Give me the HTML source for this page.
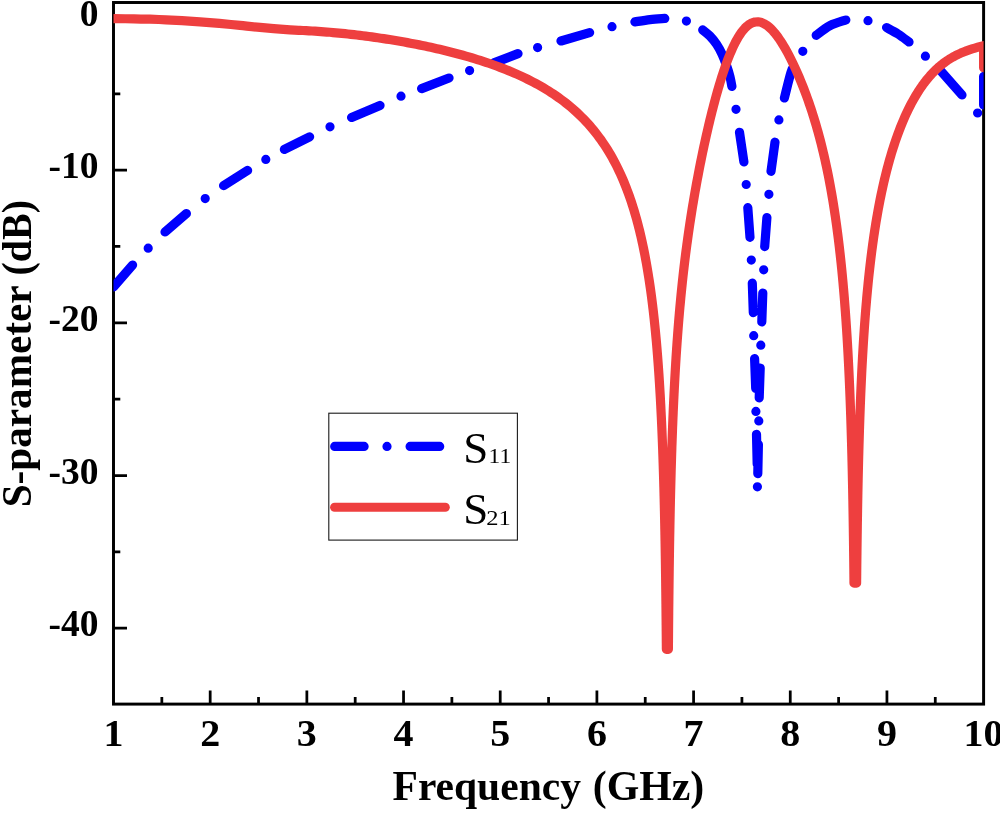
<!DOCTYPE html>
<html><head><meta charset="utf-8"><title>S-parameter</title>
<style>html,body{margin:0;padding:0;background:#fff}svg{display:block}</style></head>
<body>
<svg width="1000" height="813" viewBox="0 0 1000 813">
<defs><clipPath id="c"><rect x="113.5" y="2.5" width="870.10" height="701.60"/></clipPath></defs>
<rect width="1000" height="813" fill="#fff"/>
<path d="M161.84,704.10V696.90M210.18,704.10V690.40M258.52,704.10V696.90M306.86,704.10V690.40M355.20,704.10V696.90M403.54,704.10V690.40M451.88,704.10V696.90M500.22,704.10V690.40M548.56,704.10V696.90M596.90,704.10V690.40M645.24,704.10V696.90M693.58,704.10V690.40M741.92,704.10V696.90M790.26,704.10V690.40M838.60,704.10V696.90M886.94,704.10V690.40M935.28,704.10V696.90M113.50,17.44H127.00M113.50,93.78H120.30M113.50,170.13H127.00M113.50,246.47H120.30M113.50,322.82H127.00M113.50,399.17H120.30M113.50,475.51H127.00M113.50,551.86H120.30M113.50,628.20H127.00" stroke="#000" stroke-width="2.75" fill="none"/>
<rect x="113.5" y="2.5" width="870.10" height="701.60" fill="none" stroke="#000" stroke-width="2.95"/>
<g clip-path="url(#c)" fill="none" stroke-linecap="round" stroke-linejoin="round">
<path d="M113.50,287.00 L132.60,265.00 M165.00,232.00 L186.40,213.60 M223.60,185.60 L247.60,170.40 M284.40,149.40 L309.60,136.80 M351.60,117.40 L380.00,105.40 M421.60,88.60 L449.00,78.00 M494.00,62.90 L518.00,53.60 M561.00,41.00 L589.60,32.60 M634.90,21.90 C637.42,21.52 645.02,20.18 650.00,19.60 C654.98,19.02 662.33,18.60 664.80,18.40 M702.70,29.90 C703.90,30.92 707.58,33.60 709.90,36.00 C712.22,38.40 714.57,41.25 716.60,44.30 C718.63,47.35 720.45,50.78 722.10,54.30 C723.75,57.82 725.20,61.72 726.50,65.40 C727.80,69.08 729.00,72.90 729.90,76.40 C730.80,79.90 731.57,84.73 731.90,86.40 M739.50,132.30 L743.90,161.90 M747.80,207.70 L750.00,237.30 M752.30,283.10 L753.30,312.70 M754.60,358.70 L755.70,388.40 M756.50,434.30 L757.20,464.20 M757.80,473.60 L758.40,444.50 M759.20,397.80 L760.20,368.00 M761.80,321.90 L762.80,293.00 M764.70,246.60 L766.90,217.60 M771.00,171.30 L775.00,142.20 M784.40,98.00 C784.93,95.83 786.58,89.00 787.60,85.00 C788.62,81.00 789.73,76.67 790.50,74.00 C791.27,71.33 791.92,69.83 792.20,69.00 M816.20,35.30 C818.50,33.68 825.07,28.15 830.00,25.60 C834.93,23.05 843.17,20.93 845.80,20.00 M886.60,27.60 C888.50,28.67 894.27,31.60 898.00,34.00 C901.73,36.40 907.17,40.67 909.00,42.00 M940.00,70.00 L962.00,95.00 M983.60,105.00 L983.60,76.50 M148.20,248.20h0.01 M205.20,198.60h0.01 M265.80,159.40h0.01 M330.00,126.80h0.01 M401.00,96.20h0.01 M469.60,70.60h0.01 M537.60,47.60h0.01 M612.00,26.70h0.01 M686.40,21.10h0.01 M736.00,109.30h0.01 M746.20,184.50h0.01 M751.30,260.10h0.01 M753.70,335.70h0.01 M755.90,411.40h0.01 M757.40,486.80h0.01 M758.80,420.90h0.01 M760.80,345.20h0.01 M763.70,269.80h0.01 M768.90,194.30h0.01 M778.90,119.90h0.01 M802.80,51.30h0.01 M868.00,20.70h0.01 M925.40,56.20h0.01 M977.60,113.00h0.01" stroke="#0000fe" stroke-width="9.2"/>
<path d="M113.50,18.70 C116.92,18.72 127.92,18.72 134.00,18.80 C140.08,18.88 144.67,19.03 150.00,19.20 C155.33,19.37 160.67,19.57 166.00,19.80 C171.33,20.03 176.33,20.27 182.00,20.60 C187.67,20.93 193.77,21.33 200.00,21.80 C206.23,22.27 212.73,22.80 219.40,23.40 C226.07,24.00 233.23,24.73 240.00,25.40 C246.77,26.07 251.67,26.66 260.00,27.40 C268.33,28.14 283.33,29.36 290.00,29.85 C296.67,30.34 298.33,30.24 300.00,30.32 L303.00,30.47 L306.00,30.62 L309.00,30.79 L312.00,30.97 L314.99,31.16 L317.99,31.37 L320.98,31.58 L323.98,31.81 L326.97,32.04 L329.97,32.29 L332.96,32.55 L335.95,32.82 L338.94,33.10 L341.93,33.39 L344.92,33.70 L347.90,34.01 L350.89,34.34 L353.87,34.67 L356.86,35.02 L359.84,35.38 L362.82,35.75 L365.80,36.13 L368.78,36.52 L371.75,36.92 L374.73,37.33 L377.70,37.76 L380.67,38.19 L383.64,38.64 L386.61,39.09 L389.58,39.56 L392.54,40.04 L395.50,40.53 L398.46,41.03 L401.42,41.55 L404.38,42.07 L407.34,42.61 L410.29,43.16 L413.24,43.72 L416.19,44.29 L419.13,44.87 L422.08,45.47 L425.02,46.08 L427.95,46.70 L430.89,47.34 L433.82,47.99 L436.75,48.65 L439.68,49.33 L442.60,50.02 L445.52,50.72 L448.44,51.44 L451.35,52.18 L454.26,52.93 L457.16,53.69 L460.06,54.47 L462.96,55.27 L465.85,56.08 L468.73,56.92 L471.61,57.76 L474.49,58.63 L477.36,59.52 L480.22,60.42 L483.08,61.34 L485.93,62.29 L488.78,63.25 L491.61,64.24 L494.44,65.24 L497.26,66.27 L500.08,67.32 L502.88,68.40 L505.68,69.50 L508.46,70.62 L511.23,71.77 L514.00,72.95 L516.75,74.15 L519.49,75.38 L522.22,76.64 L524.93,77.93 L527.63,79.24 L530.31,80.59 L532.98,81.97 L535.63,83.38 L538.27,84.82 L540.88,86.30 L543.48,87.81 L546.05,89.35 L548.61,90.93 L551.14,92.55 L553.65,94.20 L556.13,95.89 L558.59,97.61 L561.02,99.37 L563.43,101.17 L565.81,103.01 L568.15,104.88 L570.47,106.79 L572.75,108.74 L575.00,110.73 L577.22,112.76 L579.40,114.82 L581.55,116.92 L583.66,119.06 L585.74,121.23 L587.77,123.43 L589.77,125.68 L591.73,127.95 L593.65,130.26 L595.53,132.60 L597.38,134.97 L599.18,137.38 L600.94,139.81 L602.66,142.27 L604.34,144.76 L605.99,147.27 L607.59,149.81 L609.15,152.37 L610.68,154.96 L612.17,157.57 L613.61,160.20 L615.03,162.85 L616.40,165.52 L617.74,168.21 L619.04,170.92 L620.31,173.64 L621.55,176.38 L622.75,179.13 L623.92,181.89 L625.05,184.67 L626.16,187.47 L627.23,190.27 L628.28,193.09 L629.29,195.91 L630.28,198.75 L631.24,201.59 L632.18,204.45 L633.09,207.31 L633.97,210.18 L634.83,213.06 L635.66,215.94 L636.48,218.83 L637.27,221.73 L638.03,224.64 L638.78,227.54 L639.51,230.46 L640.21,233.38 L640.90,236.30 L641.57,239.23 L642.22,242.16 L642.85,245.10 L643.46,248.04 L644.06,250.98 L644.65,253.93 L645.21,256.88 L645.76,259.83 L646.30,262.78 L646.82,265.74 L647.33,268.70 L647.82,271.66 L648.31,274.63 L648.77,277.59 L649.23,280.56 L649.67,283.53 L650.11,286.50 L650.53,289.48 L650.94,292.45 L651.34,295.43 L651.73,298.41 L652.11,301.39 L652.48,304.37 L652.84,307.35 L653.19,310.33 L653.53,313.32 L653.86,316.30 L654.19,319.29 L654.50,322.27 L654.81,325.26 L655.11,328.25 L655.41,331.24 L655.69,334.23 L655.97,337.22 L656.24,340.21 L656.51,343.20 L656.76,346.19 L657.02,349.18 L657.26,352.18 L657.50,355.17 L657.73,358.16 L657.96,361.16 L658.18,364.15 L658.40,367.15 L658.61,370.15 L658.82,373.14 L659.02,376.14 L659.21,379.14 L659.41,382.13 L659.59,385.13 L659.77,388.13 L659.95,391.13 L660.13,394.12 L660.30,397.12 L660.46,400.12 L660.62,403.12 L660.78,406.12 L660.93,409.12 L661.08,412.12 L661.23,415.12 L661.37,418.12 L661.51,421.12 L661.65,424.12 L661.78,427.12 L661.91,430.12 L662.04,433.12 L662.16,436.12 L662.28,439.12 L662.40,442.12 L662.51,445.12 L662.63,448.12 L662.74,451.13 L662.84,454.13 L662.95,457.13 L663.05,460.13 L663.15,463.13 L663.25,466.13 L663.34,469.13 L663.43,472.14 L663.53,475.14 L663.61,478.14 L663.70,481.14 L663.78,484.14 L663.87,487.15 L663.95,490.15 L664.03,493.15 L664.10,496.15 L664.18,499.16 L664.25,502.16 L664.32,505.16 L664.39,508.16 L664.46,511.16 L664.53,514.17 L664.59,517.17 L664.66,520.17 L664.72,523.18 L664.78,526.18 L664.84,529.18 L664.90,532.18 L664.96,535.19 L665.01,538.19 L665.07,541.19 L665.12,544.19 L665.17,547.20 L665.22,550.20 L665.27,553.20 L665.32,556.21 L665.37,559.21 L665.41,562.21 L665.46,565.21 L665.50,568.22 L665.54,571.22 L665.59,574.22 L665.63,577.23 L665.67,580.23 L665.71,583.23 L665.74,586.23 L665.78,589.24 L665.82,592.24 L665.85,595.24 L665.89,598.25 L665.92,601.25 L665.96,604.25 L665.99,607.26 L666.02,610.26 L666.05,613.26 L666.08,616.27 L666.11,619.27 L666.14,622.27 L666.17,625.27 L666.20,628.28 L666.22,631.28 L666.25,634.28 L666.28,637.29 L666.30,640.29 L666.33,643.29 L666.35,646.30 L666.37,649.30 L668.39,649.30 L668.41,646.29 L668.43,643.29 L668.46,640.28 L668.48,637.28 L668.51,634.27 L668.53,631.27 L668.56,628.26 L668.58,625.26 L668.61,622.25 L668.64,619.25 L668.67,616.24 L668.70,613.24 L668.72,610.23 L668.75,607.23 L668.79,604.22 L668.82,601.22 L668.85,598.21 L668.88,595.21 L668.92,592.20 L668.95,589.19 L668.99,586.19 L669.02,583.18 L669.06,580.18 L669.10,577.17 L669.14,574.17 L669.17,571.16 L669.21,568.16 L669.26,565.15 L669.30,562.15 L669.34,559.14 L669.39,556.14 L669.43,553.13 L669.48,550.13 L669.52,547.12 L669.57,544.12 L669.62,541.11 L669.67,538.11 L669.72,535.10 L669.78,532.10 L669.83,529.09 L669.89,526.09 L669.94,523.08 L670.00,520.08 L670.06,517.07 L670.12,514.07 L670.18,511.06 L670.24,508.06 L670.31,505.05 L670.37,502.05 L670.44,499.05 L670.51,496.04 L670.58,493.04 L670.65,490.03 L670.73,487.03 L670.80,484.02 L670.88,481.02 L670.96,478.01 L671.04,475.01 L671.12,472.01 L671.20,469.00 L671.29,466.00 L671.38,462.99 L671.47,459.99 L671.56,456.98 L671.65,453.98 L671.75,450.98 L671.84,447.97 L671.94,444.97 L672.05,441.97 L672.15,438.96 L672.26,435.96 L672.37,432.96 L672.48,429.95 L672.59,426.95 L672.71,423.95 L672.83,420.94 L672.95,417.94 L673.08,414.94 L673.20,411.93 L673.33,408.93 L673.47,405.93 L673.60,402.93 L673.74,399.92 L673.89,396.92 L674.03,393.92 L674.18,390.92 L674.33,387.92 L674.49,384.92 L674.64,381.92 L674.81,378.91 L674.97,375.91 L675.14,372.91 L675.31,369.91 L675.49,366.91 L675.67,363.91 L675.85,360.91 L676.04,357.91 L676.23,354.91 L676.43,351.91 L676.63,348.92 L676.84,345.92 L677.04,342.92 L677.26,339.92 L677.48,336.92 L677.70,333.93 L677.93,330.93 L678.16,327.93 L678.40,324.94 L678.64,321.94 L678.88,318.95 L679.14,315.95 L679.39,312.96 L679.66,309.96 L679.92,306.97 L680.20,303.98 L680.48,300.98 L680.76,297.99 L681.05,295.00 L681.35,292.01 L681.65,289.02 L681.96,286.03 L682.27,283.04 L682.59,280.05 L682.92,277.07 L683.25,274.08 L683.59,271.09 L683.93,268.11 L684.28,265.12 L684.64,262.14 L685.00,259.15 L685.37,256.17 L685.75,253.19 L686.14,250.21 L686.53,247.23 L686.92,244.25 L687.33,241.27 L687.74,238.30 L688.15,235.32 L688.58,232.34 L689.01,229.37 L689.45,226.40 L689.89,223.42 L690.34,220.45 L690.80,217.48 L691.27,214.51 L691.74,211.55 L692.22,208.58 L692.71,205.61 L693.20,202.65 L693.70,199.68 L694.20,196.72 L694.72,193.76 L695.24,190.80 L695.77,187.84 L696.30,184.88 L696.84,181.93 L697.39,178.97 L697.95,176.02 L698.51,173.07 L699.08,170.12 L699.65,167.17 L700.24,164.22 L700.83,161.27 L701.42,158.33 L702.03,155.38 L702.64,152.44 L703.26,149.50 L703.89,146.56 L704.52,143.62 L705.17,140.69 L705.82,137.75 L706.48,134.82 L707.14,131.89 L707.82,128.96 L708.50,126.03 L709.20,123.11 L709.90,120.19 L710.61,117.27 L711.33,114.35 L712.06,111.44 L712.81,108.52 L713.56,105.61 L714.33,102.71 L715.10,99.81 L715.89,96.91 L716.70,94.01 L717.52,91.12 L718.35,88.23 L719.20,85.35 L720.06,82.47 L720.95,79.60 L721.85,76.73 L722.77,73.87 L723.72,71.02 L724.69,68.17 L725.68,65.34 L726.71,62.51 L727.76,59.70 L728.85,56.90 L729.98,54.11 L731.15,51.34 L732.36,48.59 L733.63,45.87 L734.96,43.17 L736.36,40.51 L737.83,37.89 L739.40,35.33 L741.09,32.84 L742.90,30.44 L744.87,28.18 L747.03,26.09 L749.43,24.28 L752.07,22.85 L754.94,21.98 L757.93,21.80 L760.88,22.31 L763.68,23.41 L766.27,24.93 L768.66,26.74 L770.89,28.76 L772.97,30.93 L774.93,33.21 L776.79,35.57 L778.56,38.00 L780.26,40.48 L781.89,43.00 L783.46,45.56 L784.99,48.15 L786.47,50.77 L787.91,53.40 L789.31,56.06 L790.67,58.74 L792.01,61.43 L793.31,64.14 L794.59,66.86 L795.84,69.60 L797.06,72.34 L798.26,75.10 L799.44,77.86 L800.59,80.64 L801.73,83.42 L802.84,86.21 L803.93,89.01 L805.00,91.82 L806.05,94.64 L807.08,97.46 L808.09,100.29 L809.08,103.13 L810.05,105.97 L811.00,108.82 L811.94,111.68 L812.86,114.54 L813.75,117.41 L814.64,120.28 L815.50,123.16 L816.35,126.04 L817.18,128.93 L817.99,131.83 L818.79,134.72 L819.57,137.63 L820.33,140.53 L821.08,143.44 L821.81,146.36 L822.53,149.28 L823.23,152.20 L823.92,155.13 L824.59,158.05 L825.25,160.99 L825.89,163.92 L826.52,166.86 L827.14,169.80 L827.75,172.75 L828.34,175.69 L828.92,178.64 L829.49,181.59 L830.04,184.55 L830.58,187.50 L831.11,190.46 L831.63,193.42 L832.14,196.38 L832.64,199.35 L833.13,202.31 L833.61,205.28 L834.07,208.25 L834.53,211.22 L834.98,214.19 L835.42,217.16 L835.84,220.14 L836.26,223.11 L836.68,226.09 L837.08,229.07 L837.47,232.05 L837.86,235.03 L838.23,238.01 L838.60,240.99 L838.96,243.98 L839.32,246.96 L839.66,249.95 L840.00,252.93 L840.33,255.92 L840.66,258.91 L840.97,261.90 L841.28,264.89 L841.59,267.88 L841.89,270.87 L842.18,273.86 L842.46,276.85 L842.74,279.84 L843.02,282.84 L843.28,285.83 L843.54,288.82 L843.80,291.82 L844.05,294.81 L844.30,297.81 L844.54,300.80 L844.77,303.80 L845.00,306.80 L845.23,309.79 L845.45,312.79 L845.66,315.79 L845.87,318.79 L846.08,321.79 L846.28,324.78 L846.48,327.78 L846.67,330.78 L846.86,333.78 L847.05,336.78 L847.23,339.78 L847.41,342.78 L847.58,345.78 L847.75,348.78 L847.92,351.78 L848.08,354.78 L848.24,357.79 L848.39,360.79 L848.55,363.79 L848.70,366.79 L848.84,369.79 L848.98,372.79 L849.12,375.80 L849.26,378.80 L849.39,381.80 L849.52,384.80 L849.65,387.81 L849.78,390.81 L849.90,393.81 L850.02,396.81 L850.14,399.82 L850.25,402.82 L850.36,405.82 L850.47,408.83 L850.58,411.83 L850.68,414.83 L850.79,417.84 L850.89,420.84 L850.98,423.85 L851.08,426.85 L851.17,429.85 L851.26,432.86 L851.35,435.86 L851.44,438.87 L851.53,441.87 L851.61,444.87 L851.69,447.88 L851.77,450.88 L851.85,453.89 L851.93,456.89 L852.00,459.90 L852.08,462.90 L852.15,465.90 L852.22,468.91 L852.29,471.91 L852.35,474.92 L852.42,477.92 L852.48,480.93 L852.55,483.93 L852.61,486.94 L852.67,489.94 L852.73,492.95 L852.78,495.95 L852.84,498.96 L852.90,501.96 L852.95,504.97 L853.00,507.97 L853.05,510.98 L853.10,513.98 L853.15,516.99 L853.20,519.99 L853.25,523.00 L853.29,526.00 L853.34,529.01 L853.38,532.01 L853.42,535.02 L853.47,538.02 L853.51,541.03 L853.55,544.03 L853.59,547.04 L853.62,550.04 L853.66,553.05 L853.70,556.05 L853.73,559.06 L853.77,562.06 L853.80,565.07 L853.84,568.07 L853.87,571.08 L853.90,574.08 L853.93,577.09 L853.96,580.09 L853.99,583.10 L856.60,583.10 L856.62,580.10 L856.66,577.10 L856.69,574.10 L856.72,571.10 L856.75,568.10 L856.78,565.10 L856.82,562.10 L856.85,559.09 L856.89,556.09 L856.93,553.09 L856.96,550.09 L857.00,547.09 L857.04,544.09 L857.08,541.09 L857.12,538.09 L857.16,535.09 L857.21,532.09 L857.25,529.09 L857.29,526.09 L857.34,523.09 L857.39,520.09 L857.44,517.09 L857.49,514.09 L857.54,511.09 L857.59,508.09 L857.64,505.09 L857.69,502.09 L857.75,499.09 L857.81,496.09 L857.86,493.08 L857.92,490.08 L857.98,487.08 L858.04,484.08 L858.11,481.08 L858.17,478.08 L858.24,475.08 L858.31,472.08 L858.38,469.08 L858.45,466.08 L858.52,463.08 L858.59,460.08 L858.67,457.08 L858.75,454.08 L858.83,451.08 L858.91,448.08 L858.99,445.09 L859.08,442.09 L859.17,439.09 L859.26,436.09 L859.35,433.09 L859.44,430.09 L859.54,427.09 L859.64,424.09 L859.74,421.09 L859.84,418.09 L859.94,415.09 L860.05,412.09 L860.16,409.09 L860.27,406.10 L860.39,403.10 L860.51,400.10 L860.63,397.10 L860.75,394.10 L860.88,391.10 L861.01,388.11 L861.14,385.11 L861.28,382.11 L861.42,379.11 L861.56,376.12 L861.70,373.12 L861.85,370.12 L862.01,367.12 L862.16,364.13 L862.32,361.13 L862.49,358.13 L862.65,355.14 L862.83,352.14 L863.00,349.15 L863.18,346.15 L863.36,343.16 L863.55,340.16 L863.75,337.17 L863.94,334.17 L864.15,331.18 L864.35,328.18 L864.56,325.19 L864.78,322.20 L865.00,319.21 L865.23,316.21 L865.46,313.22 L865.70,310.23 L865.95,307.24 L866.20,304.25 L866.45,301.26 L866.71,298.27 L866.98,295.28 L867.26,292.29 L867.54,289.31 L867.83,286.32 L868.12,283.33 L868.42,280.35 L868.73,277.36 L869.05,274.38 L869.37,271.39 L869.70,268.41 L870.04,265.43 L870.39,262.45 L870.75,259.47 L871.11,256.49 L871.49,253.51 L871.87,250.54 L872.26,247.56 L872.66,244.59 L873.08,241.62 L873.50,238.65 L873.93,235.68 L874.37,232.71 L874.82,229.74 L875.29,226.78 L875.76,223.81 L876.25,220.85 L876.75,217.89 L877.26,214.94 L877.78,211.98 L878.31,209.03 L878.86,206.08 L879.43,203.13 L880.00,200.19 L880.59,197.24 L881.20,194.30 L881.82,191.37 L882.45,188.43 L883.10,185.51 L883.77,182.58 L884.45,179.66 L885.15,176.74 L885.87,173.83 L886.60,170.92 L887.36,168.01 L888.13,165.11 L888.92,162.22 L889.73,159.33 L890.57,156.45 L891.42,153.57 L892.30,150.70 L893.20,147.84 L894.12,144.98 L895.06,142.13 L896.04,139.29 L897.03,136.46 L898.06,133.64 L899.11,130.83 L900.19,128.03 L901.29,125.24 L902.43,122.47 L903.60,119.70 L904.81,116.95 L906.04,114.22 L907.32,111.50 L908.63,108.80 L909.97,106.12 L911.36,103.46 L912.79,100.82 L914.26,98.21 L915.78,95.62 L917.34,93.06 L918.95,90.52 L920.62,88.03 L922.33,85.56 L924.10,83.14 L925.93,80.76 L927.81,78.43 L929.76,76.14 L931.77,73.91 L933.84,71.74 L935.98,69.64 L938.18,67.60 L940.45,65.64 L942.79,63.75 L945.19,61.96 L947.65,60.25 L950.18,58.63 L952.76,57.10 L955.40,55.67 L958.09,54.33 L960.82,53.09 L963.59,51.93 L966.39,50.86 L969.22,49.86 L972.07,48.92 L974.94,48.04 L977.82,47.20 L980.71,46.39 L983.60,45.59 L983.6,67.7" stroke="#ee3f3f" stroke-width="9.2"/>
</g>
<rect x="328.8" y="413.2" width="188.6" height="126.9" fill="#fff" stroke="#1a1a1a" stroke-width="1.1"/>
<g fill="none" stroke-linecap="round">
<path d="M334.7,446.4h29.4M387,446.4h0.01M410.1,446.4h29.6" stroke="#0000fe" stroke-width="9.2"/>
<path d="M334.6,507.3h110.7" stroke="#ee3f3f" stroke-width="9"/>
</g>
<g font-family="Liberation Serif, serif" fill="#000">
<text x="463.2" y="462.6" font-size="45">S<tspan x="488.6" y="463.2" font-size="21.5" textLength="22.5" lengthAdjust="spacingAndGlyphs">11</tspan></text>
<text x="463.2" y="524" font-size="45">S<tspan x="486.3" y="524.6" font-size="21.5" textLength="24.5" lengthAdjust="spacingAndGlyphs">21</tspan></text>
</g>
<g font-family="Liberation Serif, serif" font-weight="bold" font-size="37.5" fill="#000"><text x="113.50" y="745.6" text-anchor="middle" textLength="20" lengthAdjust="spacingAndGlyphs">1</text><text x="210.18" y="745.6" text-anchor="middle" textLength="20" lengthAdjust="spacingAndGlyphs">2</text><text x="306.86" y="745.6" text-anchor="middle" textLength="20" lengthAdjust="spacingAndGlyphs">3</text><text x="403.54" y="745.6" text-anchor="middle" textLength="20" lengthAdjust="spacingAndGlyphs">4</text><text x="500.22" y="745.6" text-anchor="middle" textLength="20" lengthAdjust="spacingAndGlyphs">5</text><text x="596.90" y="745.6" text-anchor="middle" textLength="20" lengthAdjust="spacingAndGlyphs">6</text><text x="693.58" y="745.6" text-anchor="middle" textLength="20" lengthAdjust="spacingAndGlyphs">7</text><text x="790.26" y="745.6" text-anchor="middle" textLength="20" lengthAdjust="spacingAndGlyphs">8</text><text x="886.94" y="745.6" text-anchor="middle" textLength="20" lengthAdjust="spacingAndGlyphs">9</text><text x="983.62" y="745.6" text-anchor="middle" textLength="40" lengthAdjust="spacingAndGlyphs">10</text><text x="98.5" y="25.64" text-anchor="end">0</text><text x="98.5" y="178.33" text-anchor="end">-10</text><text x="98.5" y="331.02" text-anchor="end">-20</text><text x="98.5" y="483.71" text-anchor="end">-30</text><text x="98.5" y="636.40" text-anchor="end">-40</text></g>
<g font-family="Liberation Serif, serif" font-weight="bold" font-size="42" fill="#000">
<text y="800.3"><tspan x="392.5" textLength="188.5" lengthAdjust="spacingAndGlyphs">Frequency</tspan> <tspan x="592.8" textLength="111.5" lengthAdjust="spacingAndGlyphs">(GHz)</tspan></text>
<g transform="translate(31,507.3) rotate(-90)">
<text y="0"><tspan x="0" textLength="221" lengthAdjust="spacingAndGlyphs">S-parameter</tspan> <tspan x="231.7" textLength="75.6" lengthAdjust="spacingAndGlyphs">(dB)</tspan></text>
</g>
</g>
</svg>
</body></html>
